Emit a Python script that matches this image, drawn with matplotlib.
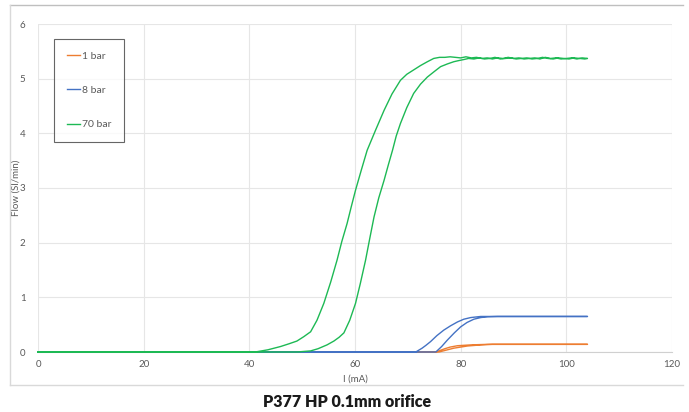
import matplotlib
matplotlib.use("Agg")
import matplotlib.pyplot as plt
from matplotlib.lines import Line2D

plt.rcParams['font.family'] = ['Lato', 'DejaVu Sans']

# ---- data ----
# 1 bar (orange): rising branch then falling branch
bar1_up_x = [0, 20, 40, 60, 70, 75.9, 77.3, 78.7, 80.0, 81.3, 82.6, 83.8, 86.0, 90, 95, 100, 104]
bar1_up_y = [0, 0, 0, 0, 0, 0.0, 0.035, 0.07, 0.09, 0.11, 0.12, 0.13, 0.14, 0.14, 0.14, 0.14, 0.14]
bar1_down_x = [104, 100, 95, 90, 85.0, 81.9, 79.4, 78.0, 77.0, 76.0, 75.3, 70, 60, 40, 20, 0]
bar1_down_y = [0.14, 0.14, 0.14, 0.14, 0.14, 0.13, 0.115, 0.09, 0.06, 0.025, 0.0, 0, 0, 0, 0, 0]

# 8 bar (blue)
bar8_up_x = [0, 20, 40, 60, 70, 75.3, 76.4, 77.5, 78.8, 80.0, 81.2, 82.5, 83.8, 85.1, 87, 90, 95, 100, 104]
bar8_up_y = [0, 0, 0, 0, 0, 0.0, 0.10, 0.22, 0.35, 0.46, 0.54, 0.60, 0.63, 0.645, 0.65, 0.65, 0.65, 0.65, 0.65]
bar8_down_x = [104, 100, 95, 90, 86, 83.8, 81.9, 80.6, 79.4, 78.1, 76.8, 75.5, 74.3, 73.4, 72.7, 71.5, 65, 60, 40, 20, 0]
bar8_down_y = [0.65, 0.65, 0.65, 0.65, 0.65, 0.65, 0.63, 0.60, 0.55, 0.48, 0.40, 0.30, 0.19, 0.12, 0.07, 0.0, 0, 0, 0, 0, 0]

# 70 bar (green)
bar70_up_x = [0, 10, 20, 30, 40, 45, 49.0, 51.6, 53.0, 54.7, 56.0, 57.0, 57.9, 59.0, 60.1, 61.0, 62.0,
              62.8, 63.6, 64.5, 65.5, 66.3, 67.1, 67.8, 68.6, 69.8, 71.1, 72.4, 73.7, 75.0, 76.2, 77.5,
              78.7, 79.6, 80.6, 81.5, 82.5, 83.5, 84.5, 85.5, 86.5, 87.5, 88.5, 89.5, 90.5, 91.5, 92.5,
              93.5, 94.5, 95.5, 96.5, 97.5, 98.5, 99.5, 100.5, 101.5, 102.5, 103.5, 104]
bar70_up_y = [0, 0, 0, 0, 0, 0, 0.0, 0.02, 0.06, 0.13, 0.20, 0.27, 0.35, 0.58, 0.89, 1.25, 1.68,
              2.08, 2.47, 2.82, 3.14, 3.42, 3.69, 3.95, 4.18, 4.47, 4.73, 4.90, 5.03, 5.13, 5.22, 5.27,
              5.31, 5.33, 5.35, 5.37, 5.36, 5.38, 5.36, 5.37, 5.39, 5.36, 5.37, 5.38, 5.36, 5.37, 5.38,
              5.36, 5.37, 5.39, 5.37, 5.36, 5.38, 5.37, 5.36, 5.38, 5.37, 5.36, 5.37]
bar70_down_x = [104, 103, 102, 101, 100, 99, 98, 97, 96, 95, 94, 93, 92, 91, 90, 89, 88, 87, 86, 85,
                84, 83, 82, 81, 80, 79, 78, 77, 76, 74.9, 73.7, 72.4, 71.1, 69.8, 68.6, 67.0, 65.5,
                63.9, 62.3, 61.2, 60.1, 59.3, 58.5, 57.5, 56.6, 55.4, 54.1, 52.8, 51.6, 50.3, 49.0,
                47.5, 45.9, 43.5, 41.1, 40, 30, 20, 10, 0]
bar70_down_y = [5.37, 5.38, 5.36, 5.38, 5.37, 5.36, 5.38, 5.37, 5.39, 5.36, 5.38, 5.37, 5.36, 5.38,
                5.37, 5.39, 5.37, 5.38, 5.36, 5.38, 5.37, 5.39, 5.38, 5.40, 5.38, 5.39, 5.40, 5.39,
                5.39, 5.37, 5.31, 5.24, 5.16, 5.08, 4.97, 4.72, 4.42, 4.06, 3.69, 3.33, 2.96, 2.66,
                2.35, 2.02, 1.68, 1.28, 0.89, 0.58, 0.37, 0.28, 0.20, 0.15, 0.10, 0.04, 0.0, 0, 0, 0, 0, 0]

series_labels = ['1 bar', '8 bar', '70 bar']
series_colors = ['#ED7D31', '#4472C4', '#1DB954']
x_ticks = [0, 20, 40, 60, 80, 100, 120]
y_ticks = [0, 1, 2, 3, 4, 5, 6]
title = 'P377 HP 0.1mm orifice'
x_label = 'I (mA)'
y_label = 'Flow (Sl/min)'

# ---- figure ----
W, H = 689, 412
fig = plt.figure(figsize=(W / 100, H / 100), dpi=100)
L, R, T, B = 38, 672, 24, 352
ax = fig.add_axes([L / W, 1 - B / H, (R - L) / W, (B - T) / H])

series = [
    (bar1_up_x + bar1_down_x, bar1_up_y + bar1_down_y),
    (bar8_up_x + bar8_down_x, bar8_up_y + bar8_down_y),
    (bar70_up_x + bar70_down_x, bar70_up_y + bar70_down_y),
]
for (xs, ys), lab, col in zip(series, series_labels, series_colors):
    ax.plot(xs, ys, color=col, lw=1.0, label=lab, solid_joinstyle='round',
            zorder=3, clip_on=False)

ax.set_xlim(0, 120)
ax.set_ylim(0, 6)
ax.set_xticks(x_ticks)
ax.set_yticks(y_ticks)
ax.grid(True, color='#e6e6e6', lw=0.8)
ax.set_axisbelow(True)
for s in ['top', 'right', 'left']:
    ax.spines[s].set_visible(False)
ax.spines['bottom'].set_color('#d0d0d0')
ax.spines['bottom'].set_linewidth(0.8)
ax.spines['bottom'].set_zorder(1)
ax.tick_params(length=0, labelsize=7, colors='#595959', pad=6)
ax.tick_params(axis='y', pad=9)
ax.set_xlabel(x_label, fontsize=7, color='#595959', labelpad=4)
ax.set_ylabel(y_label, fontsize=7, color='#595959')
ax.yaxis.set_label_coords((21 - L) / (R - L), 0.5)

leg = ax.legend(loc='upper left', bbox_to_anchor=((54 - L) / (R - L), (B - 39) / (B - T)),
                frameon=True, fancybox=False, fontsize=7.5, handlelength=1.3, handletextpad=0.15,
                labelspacing=2.4, borderpad=1.2, borderaxespad=0)
leg.get_frame().set_edgecolor('#404040')
leg.get_frame().set_linewidth(0.8)
for t in leg.get_texts():
    t.set_color('#595959')

# outer chart border (top, left, bottom)
bc = '#d9d9d9'
fig.add_artist(Line2D([10 / W, 683 / W], [1 - 5 / H, 1 - 5 / H], color='#bfbfbf', lw=1.0))
fig.add_artist(Line2D([10 / W, 10 / W], [1 - 5 / H, 1 - 385 / H], color=bc, lw=1.0))
fig.add_artist(Line2D([10 / W, 683 / W], [1 - 385 / H, 1 - 385 / H], color=bc, lw=1.0))

fig.text(347 / W, 1 - 402 / H, title, ha='center', va='center', fontsize=11.5, fontweight='heavy',
         color='#1a1a1a')

fig.savefig('out.png', dpi=100)
